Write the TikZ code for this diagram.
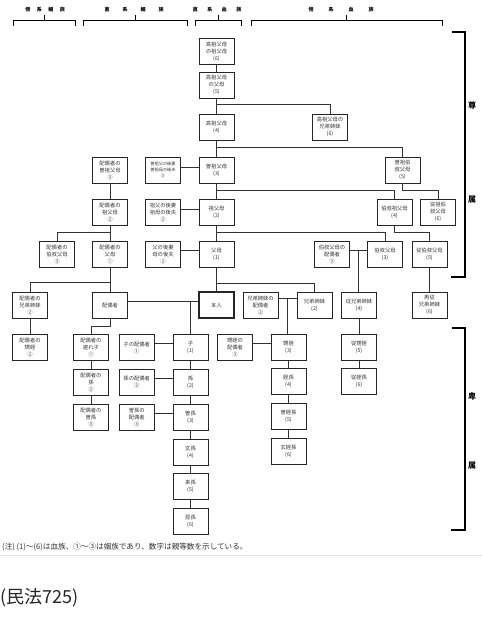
\documentclass[tikz,border=0pt]{standalone}
\usepackage{fontspec}
\setmainfont{Noto Sans CJK JP}
\usepackage{tikz}
\usetikzlibrary{positioning}

\begin{document}
\begin{tikzpicture}[
    x=1pt, y=-1pt,
    box/.style={draw=black!85, line width=0.8pt, minimum width=35pt, minimum height=26pt, inner sep=0.5pt, font=\fontsize{5.3}{7}\selectfont, align=center, text=black!80},
    smallbox/.style={box, font=\fontsize{4.2}{6}\selectfont},
    selfbox/.style={box, line width=1.3pt},
    link/.style={draw=black!80, line width=0.8pt},
    brace/.style={draw=black, line width=0.9pt},
    head/.style={font=\fontsize{5}{6}\bfseries\selectfont},
    side/.style={font=\fontsize{8}{9}\bfseries\selectfont}
]
    \useasboundingbox (0,0) rectangle (482,640);

    % Headers
    \node[head] (hd1) at (45,10) {傍\hspace{6.5pt}系\hspace{6.5pt}姻\hspace{6.5pt}族};
    \node[head] (hd2) at (134,10) {直\hspace{13pt}系\hspace{13pt}姻\hspace{13pt}族};
    \node[head] (hd3) at (217,10) {直\hspace{9.5pt}系\hspace{9.5pt}血\hspace{9.5pt}族};
    \node[head] (hd4) at (341,10) {傍\hspace{15pt}系\hspace{15pt}血\hspace{15pt}族};
    \draw[brace] (13,26) |- (75,20) -- (75,26);
    \draw[brace] (44,20) -- (44,15);
    \draw[brace] (83,26) |- (187,20) -- (187,26);
    \draw[brace] (135,20) -- (135,15);
    \draw[brace] (195,26) |- (241,20) -- (241,26);
    \draw[brace] (218,20) -- (218,15);
    \draw[brace] (251,26) |- (442,20) -- (442,26);
    \draw[brace] (346,20) -- (346,15);

    % Direct line
    \node[box] (ks6) at (216.5,51.5) {高祖父母\\の祖父母\\(6)};
    \node[box] (ks5) at (216.5,85) {高祖父母\\の父母\\(5)};
    \node[box] (kso) at (216.5,127) {高祖父母\\(4)};
    \node[box] (sso) at (216.5,170) {曽祖父母\\(3)};
    \node[box] (sofu) at (216.5,212) {祖父母\\(2)};
    \node[box] (fubo) at (216.5,254.5) {父母\\(1)};
    \node[selfbox] (me) at (216.5,305) {本人};

    % Step parents
    \node[smallbox] (gs3) at (163,170) {曽祖父の後妻\\曽祖母の後夫\\③};
    \node[box] (gs2) at (163,212) {祖父の後妻\\祖母の後夫\\②};
    \node[box] (gs1) at (163,254.5) {父の後妻\\母の後夫\\②};

    % Spouse side
    \node[box] (hs3) at (110,170) {配偶者の\\曽祖父母\\③};
    \node[box] (hs2) at (110,212) {配偶者の\\祖父母\\②};
    \node[box] (hs1) at (110,254.5) {配偶者の\\父母\\①};
    \node[box] (hoj) at (57,254.5) {配偶者の\\伯叔父母\\③};
    \node[box] (spouse) at (110,305) {配偶者};
    \node[box] (hkyo) at (30,305) {配偶者の\\兄弟姉妹\\②};
    \node[box] (hoi) at (30,347.5) {配偶者の\\甥姪\\②};

    % Collaterals
    \node[box] (ksib) at (330,127) {高祖父母の\\兄弟姉妹\\(6)};
    \node[box] (sohk) at (402.5,170) {曽祖伯\\叔父母\\(5)};
    \node[box] (hks) at (394.5,212) {伯叔祖父母\\(4)};
    \node[box] (jsh) at (438,212) {従祖伯\\叔父母\\(6)};
    \node[box] (ojisp) at (332,254.5) {伯叔父母の\\配偶者\\③};
    \node[box] (oji) at (385,254.5) {伯叔父母\\(3)};
    \node[box] (jhk) at (429.5,254.5) {従伯叔父母\\(5)};
    \node[box] (kysp) at (260.5,305) {兄弟姉妹の\\配偶者\\②};
    \node[box] (kyo) at (314.5,305) {兄弟姉妹\\(2)};
    \node[box] (itoko) at (359,305) {従兄弟姉妹\\(4)};
    \node[box] (mata) at (429.5,305) {再従\\兄弟姉妹\\(6)};

    % Nephews
    \node[box] (oisp) at (235,347.5) {甥姪の\\配偶者\\③};
    \node[box] (oi) at (288.5,347.5) {甥姪\\(3)};
    \node[box, below=7pt of oi] (oison) {姪孫\\(4)};
    \node[box, below=8pt of oison] (soison) {曽姪孫\\(5)};
    \node[box, below=8pt of soison] (goison) {玄姪孫\\(6)};
    \node[box] (joi) at (359,347.5) {従甥姪\\(5)};
    \node[box, below=7pt of joi] (joison) {従姪孫\\(6)};

    % Descendants
    \node[box] (ko) at (190.5,347.5) {子\\(1)};
    \node[box, below=8pt of ko] (mago) {孫\\(2)};
    \node[box, below=8pt of mago] (himago) {曽孫\\(3)};
    \node[box, below=8pt of himago] (gen) {玄孫\\(4)};
    \node[box, below=8pt of gen] (rai) {来孫\\(5)};
    \node[box, below=8pt of rai] (kon) {昆孫\\(6)};
    \node[box, left=18pt of ko] (kosp) {子の配偶者\\①};
    \node[box, left=18pt of mago] (magosp) {孫の配偶者\\②};
    \node[box, left=18pt of himago] (himagosp) {曽孫の\\配偶者\\③};
    \node[box, left=10pt of kosp] (tsure) {配偶者の\\連れ子\\①};
    \node[box, below=8pt of tsure] (hmago) {配偶者の\\孫\\②};
    \node[box, below=8pt of hmago] (hhimago) {配偶者の\\曽孫\\③};

    % Direct line links
    \draw[link] (ks6) -- (ks5);
    \draw[link] (ks5) -- (kso);
    \draw[link] (kso) -- (sso);
    \draw[link] (sso) -- (sofu);
    \draw[link] (sofu) -- (fubo);
    \draw[link] (fubo) -- (me);

    % Branches to collaterals
    \draw[link] (ksib.north) -- ++(0,-9) -| (ks5.south);
    \draw[link] (sohk.north) -- ++(0,-9) -| (kso.south);
    \draw[link] (hks.north) -- ++(0,-8) -| (sso.south);
    \draw[link] (oji.north) -- ++(0,-9) -| (sofu.south);
    \draw[link] (kyo.north) -- ++(0,-8) -| (fubo.south);
    \draw[link] (jsh.north) -- ++(0,-8) -| (sohk.south);
    \draw[link] (jhk.north) -- ++(0,-9) -| (hks.south);
    \draw[link] (jhk) -- (mata);

    % Step parent links
    \draw[link] ([yshift=3pt]gs3.east) -- ([yshift=3pt]gs3.east -| sso.west);
    \draw[link] ([yshift=3pt]gs2.east) -- ([yshift=3pt]gs2.east -| sofu.west);
    \draw[link] ([yshift=4pt]gs1.east) -- ([yshift=4pt]gs1.east -| fubo.west);

    % Couples and their children
    \draw[link] ([yshift=4.5pt]ojisp.east) -- coordinate (ojimid) ([yshift=4.5pt]ojisp.east -| oji.west);
    \draw[link] (ojimid) -- (ojimid |- itoko.north);
    \draw[link] (itoko) -- (joi);
    \draw[link] (joi) -- (joison);
    \draw[link] ([yshift=7pt]kysp.east) -- coordinate (kymid) ([yshift=7pt]kysp.east -| kyo.west);
    \draw[link] (kymid) -- (kymid |- oi.north);
    \draw[link] ([yshift=4pt]oisp.east) -- ([yshift=4pt]oisp.east -| oi.west);
    \draw[link] (oi) -- (oison);
    \draw[link] (oison) -- (soison);
    \draw[link] (soison) -- (goison);
    \draw[link] ([yshift=4pt]spouse.east) -- ([yshift=4pt]spouse.east -| me.west);
    \draw[link] (ko.north) -- ([yshift=4pt]me.west -| ko.north);

    % Descendant links
    \draw[link] (ko) -- (mago);
    \draw[link] (mago) -- (himago);
    \draw[link] (himago) -- (gen);
    \draw[link] (gen) -- (rai);
    \draw[link] (rai) -- (kon);
    \draw[link] ([yshift=4pt]kosp.east) -- ([yshift=4pt]kosp.east -| ko.west);
    \draw[link] ([yshift=4pt]magosp.east) -- ([yshift=4pt]magosp.east -| mago.west);
    \draw[link] ([yshift=4pt]himagosp.east) -- ([yshift=4pt]himagosp.east -| himago.west);

    % Spouse side links
    \draw[link] (hs3) -- (hs2);
    \draw[link] (hs2) -- (hs1);
    \draw[link] (hs1) -- (spouse);
    \draw[link] (hoj.north) -- ++(0,-9) -| (hs2.south);
    \draw[link] (hkyo.north) -- ++(0,-9) -| (hs1.south);
    \draw[link] (hkyo) -- (hoi);
    \draw[link] (spouse.south) -- ++(0,8) -| (tsure.north);
    \draw[link] (tsure) -- (hmago);
    \draw[link] (hmago) -- (hhimago);

    % Side brackets
    \draw[brace, line width=1.2pt] (452,32) -| (465,277) -- (451,277);
    \node[side] (son) at (472,105) {尊};
    \node[side] (zoku1) at (472,200) {属};
    \draw[brace, line width=1.2pt] (452,328) -| (465,530) -- (451,530);
    \node[side] (hi) at (472,396) {卑};
    \node[side] (zoku2) at (472,466) {属};

    % Note
    \node[anchor=west, inner sep=0pt, font=\fontsize{7.6}{8}\selectfont, text=black!80] (note) at (2,547) {(注) (1)～(6)は血族、①～③は姻族であり、数字は親等数を示している。};
    \draw[gray!25, line width=0.8pt] (0,555) -- (482,555);
    \node[anchor=west, inner sep=0pt, font=\fontsize{18}{20}\selectfont, text=black!85] (law) at (0,598) {(民法725)};
\end{tikzpicture}
\end{document}
